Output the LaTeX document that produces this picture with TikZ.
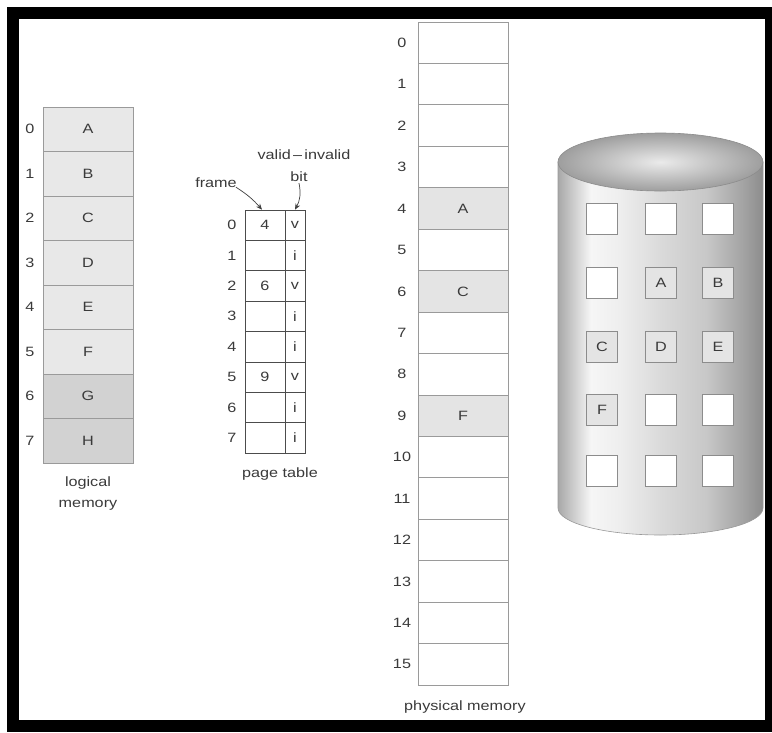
\documentclass[tikz,border=0pt]{standalone}
\usepackage{fontspec}
\setmainfont{Liberation Sans}[FakeStretch=1.2]
\usetikzlibrary{arrows.meta}
\definecolor{txt}{HTML}{3A3A3A}
\definecolor{lg}{HTML}{E8E8E8}
\definecolor{dg}{HTML}{D2D2D2}
\definecolor{pg}{HTML}{E4E4E4}
\definecolor{wh}{HTML}{FFFFFF}
\definecolor{bord}{HTML}{9A9A9A}
\definecolor{cA}{HTML}{A8A8A8}
\definecolor{cB}{HTML}{F6F6F6}
\definecolor{cC}{HTML}{EEEEEE}
\definecolor{cD}{HTML}{DADADA}
\definecolor{cE}{HTML}{C8C8C8}
\definecolor{cF}{HTML}{A4A4A4}
\definecolor{cG}{HTML}{8C8C8C}
\pgfdeclarehorizontalshading{cylshade}{100bp}{color(0bp)=(cA); color(25bp)=(cA); color(33bp)=(cB); color(40bp)=(cC); color(50bp)=(cD); color(61bp)=(cE); color(70bp)=(cF); color(75bp)=(cG); color(100bp)=(cG)}
\begin{document}
\begin{tikzpicture}[x=1pt,y=-1pt,
  font=\fontsize{13.5}{16}\selectfont,
  every node/.style={text=txt},
  lcell/.style={draw=bord, line width=0.8pt, minimum width=90pt, minimum height=44.5pt, inner sep=0pt},
  ptcell/.style={draw=black!70, line width=0.7pt, minimum height=30.375pt, inner sep=0pt},
  pmcell/.style={draw=bord, line width=0.9pt, minimum width=90pt, minimum height=41.44pt, inner sep=0pt},
  idx/.style={inner sep=0pt},
  dsq/.style={draw=black!45, line width=1pt, minimum size=31pt, inner sep=0pt},
  lbl/.style={align=center, inner sep=1pt},
  arr/.style={draw=black!75, line width=0.7pt, -{Stealth[length=6pt,width=5pt]}}
]
\useasboundingbox (0,0) rectangle (772,732);
\fill[white] (0,0) rectangle (772,732);
\draw[line width=12pt] (13,13) rectangle (771,726);

% logical memory
\foreach \i/\t/\c in {0/A/lg,1/B/lg,2/C/lg,3/D/lg,4/E/lg,5/F/lg,6/G/dg,7/H/dg}{
  \node[lcell, fill=\c] (lm\i) at (88,{107+44.5*(\i+0.5)}) {\t};
  \node[idx] (li\i) at (30,{107+44.5*(\i+0.5)}) {\i};
}
\node[lbl, font=\fontsize{13.5}{21}\selectfont] (lmlab) at (88,494) {logical\\memory};

% page table
\foreach \i/\f/\b in {0/4/v,1//i,2/6/v,3//i,4//i,5/9/v,6//i,7//i}{
  \node[ptcell, minimum width=40pt] (pf\i) at (265,{210+30.375*(\i+0.5)}) {\f};
  \node[ptcell, minimum width=20pt] (pb\i) at (295,{210+30.375*(\i+0.5)}) {\b};
  \node[idx] (pi\i) at (232,{210+30.375*(\i+0.5)}) {\i};
}
\node[lbl] (ptlab) at (280,474) {page table};
\node[lbl] (frm) at (216,183) {frame};
\node[lbl] (vi) at (304,155) {valid\,–\,invalid};
\node[lbl] (bit) at (299,177) {bit};
\draw[arr] ([xshift=-2pt,yshift=2pt]frm.south east) to[bend left=8] ([xshift=-3pt]pf0.north);
\draw[arr] (bit.south) to[bend left=20] (pb0.north);

% physical memory
\foreach \i in {0,...,15}{
  \node[idx] (pmi\i) at (402,{22+41.44*(\i+0.5)}) {\i};
}
\foreach \i/\t/\c in {0//wh,1//wh,2//wh,3//wh,4/A/pg,5//wh,6/C/pg,7//wh,8//wh,9/F/pg,10//wh,11//wh,12//wh,13//wh,14//wh,15//wh}{
  \node[pmcell, fill=\c] (pm\i) at (463,{22+41.44*(\i+0.5)}) {\t};
}
\node[lbl] (pmlab) at (465,707) {physical memory};

% disk (backing store)
\shade[shading=cylshade, draw=black!40, line width=0.6pt]
  (558,162) -- (558,508)
  .. controls (558,522.9) and (603.9,535) .. (660.5,535)
  .. controls (717.1,535) and (763,522.9) .. (763,508)
  -- (763,162) -- cycle;
\shade[inner color=black!8, outer color=black!38, draw=black!45, line width=0.6pt]
  (660.5,162) ellipse [x radius=102.5, y radius=29];
\foreach \r/\y in {1/219,2/283,3/347,4/410,5/471}{
  \foreach \k/\x in {1/602,2/661,3/718}{
    \coordinate (dc\r\k) at (\x,\y);
  }
}
\foreach \r/\k/\t/\c in {1/1//wh,1/2//wh,1/3//wh,2/1//wh,2/2/A/pg,2/3/B/pg,3/1/C/pg,3/2/D/pg,3/3/E/pg,4/1/F/pg,4/2//wh,4/3//wh,5/1//wh,5/2//wh,5/3//wh}{
  \node[dsq, fill=\c] (ds\r\k) at (dc\r\k) {\t};
}
\end{tikzpicture}
\end{document}
